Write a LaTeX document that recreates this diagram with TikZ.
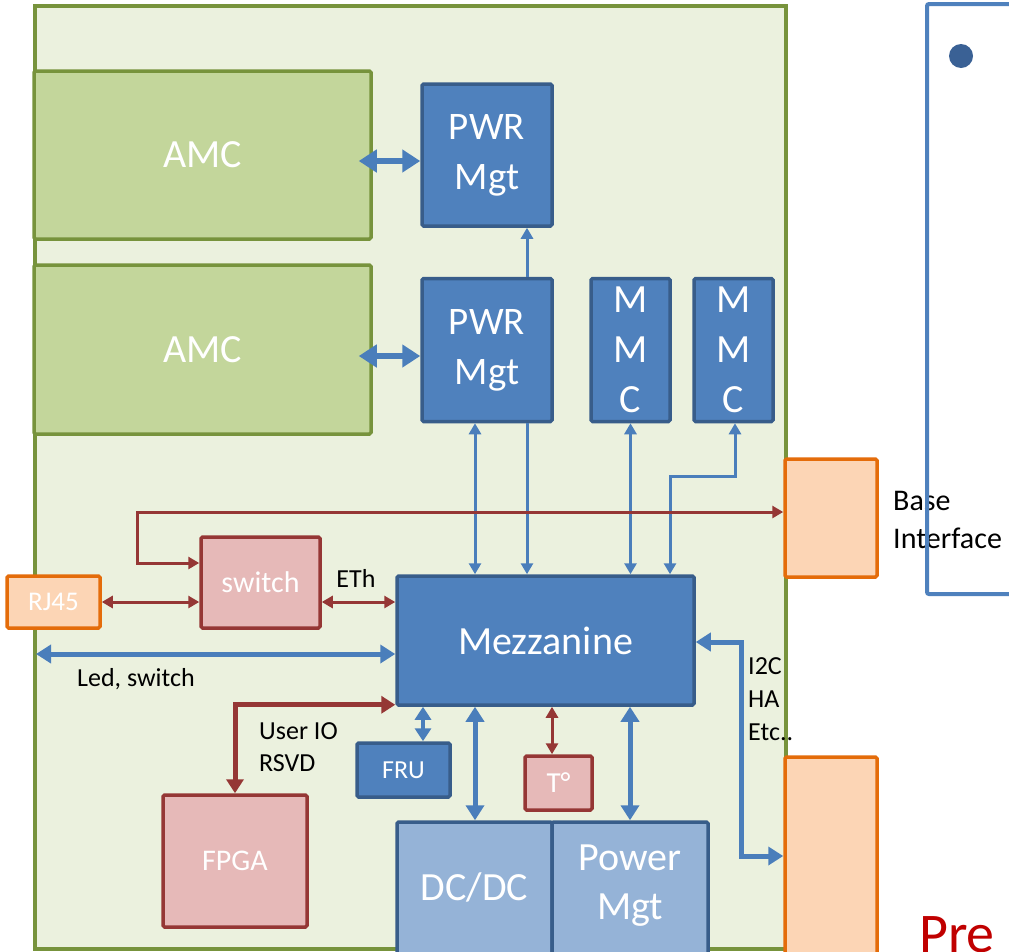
\documentclass[tikz,border=0pt]{standalone}
\usepackage{fontspec}
\setmainfont{Carlito}
\usetikzlibrary{arrows.meta}
\newcommand{\fsz}[2]{\fontsize{#1}{#2}\selectfont}
\definecolor{boardfill}{HTML}{EBF1DE}
\definecolor{boardline}{HTML}{77933C}
\definecolor{amcfill}{HTML}{C3D69B}
\definecolor{bluefill}{HTML}{4F81BD}
\definecolor{blueline}{HTML}{385D8A}
\definecolor{lightblue}{HTML}{95B3D7}
\definecolor{pinkfill}{HTML}{E6B9B8}
\definecolor{redline}{HTML}{953735}
\definecolor{orfill}{HTML}{FCD5B5}
\definecolor{orline}{HTML}{E46C0A}
\definecolor{arblue}{HTML}{4A7EBB}
\definecolor{bulletblue}{HTML}{3A6195}
\definecolor{prered}{HTML}{C00000}
\tikzset{
  tipA/.tip={Triangle[length=18pt,width=22pt]},
  tipB/.tip={Triangle[length=15pt,width=18pt]},
  tipF/.tip={Triangle[length=13pt,width=16pt]},
  tipb/.tip={Triangle[length=11pt,width=12pt]},
  tipr/.tip={Triangle[length=11pt,width=12pt]},
  tipR/.tip={Triangle[length=14pt,width=17pt]},
  box/.style={rectangle, inner sep=0pt, line width=3.5pt, rounded corners=1.5pt, text=white, align=center},
  bluebox/.style={box, fill=bluefill, draw=blueline},
  amcbox/.style={box, fill=amcfill, draw=boardline},
  pinkbox/.style={box, fill=pinkfill, draw=redline},
  orbox/.style={box, fill=orfill, draw=orline},
  lbbox/.style={box, fill=lightblue, draw=blueline},
  boardbox/.style={rectangle, inner sep=0pt, line width=3.5pt, fill=boardfill, draw=boardline},
  lbl/.style={text=black, inner sep=0pt, align=left},
  wtxt/.style={text=white, inner sep=0pt, align=center},
  Aline/.style={draw=arblue, line width=6pt, tipA-tipA},
  Bline/.style={draw=arblue, line width=5pt, tipB-tipB},
  Fline/.style={draw=arblue, line width=4.5pt, tipF-tipF},
  bline/.style={draw=arblue, line width=3pt},
  rline/.style={draw=redline, line width=3pt, tipr-tipr},
  Rline/.style={draw=redline, line width=5pt, tipR-tipR},
}
\begin{document}
\begin{tikzpicture}[x=1pt,y=-1pt]
\useasboundingbox (0,0) rectangle (1009,951);
% board
\node[boardbox, minimum width=751pt, minimum height=943pt] (board) at (410.5,477.5) {};
% boxes
\node[amcbox, minimum width=337pt, minimum height=168pt, font=\fsz{40}{50}] (amc1) at (202.5,155) {AMC};
\node[amcbox, minimum width=337pt, minimum height=169pt, font=\fsz{40}{50}] (amc2) at (202.5,349.5) {AMC};
\node[bluebox, minimum width=130pt, minimum height=142pt, font=\fsz{39}{50}] (pwr1) at (487,155) {PWR\\Mgt};
\node[bluebox, minimum width=130pt, minimum height=143pt, font=\fsz{39}{50}] (pwr2) at (487,350) {PWR\\Mgt};
\node[bluebox, minimum width=79pt, minimum height=143pt, font=\fsz{40}{50}] (mmc1) at (630.5,350) {M\\M\\C};
\node[bluebox, minimum width=79pt, minimum height=143pt, font=\fsz{40}{50}] (mmc2) at (733.5,350) {M\\M\\C};
\node[bluebox, minimum width=297pt, minimum height=129pt, font=\fsz{40}{50}] (mezz) at (545.5,640.5) {Mezzanine};
\node[pinkbox, minimum width=119pt, minimum height=91pt, font=\fsz{30}{36}] (switch) at (260.5,582.5) {switch};
\node[orbox, minimum width=93pt, minimum height=52pt, font=\fsz{27}{32}] (rj45) at (53.5,602) {RJ45};
\node[orbox, minimum width=92pt, minimum height=118pt] (base) at (831,518) {};
\node[orbox, minimum width=92pt, minimum height=246pt] (io) at (831,880) {};
\node[pinkbox, minimum width=144pt, minimum height=132pt, font=\fsz{30}{36}] (fpga) at (235,861) {FPGA};
\node[bluebox, minimum width=93pt, minimum height=54pt, font=\fsz{26}{32}] (fru) at (403.5,770) {FRU};
\node[pinkbox, minimum width=67pt, minimum height=54pt, font=\fsz{29}{34}] (temp) at (558.5,783) {T°};
\node[lbbox, minimum width=155pt, minimum height=178pt] (dcdc) at (474.5,911) {};
\node[lbbox, minimum width=156pt, minimum height=178pt] (pmgt) at (630,911) {};
\node[wtxt, font=\fsz{40}{50}] (dcdctxt) at (474.5,887) {DC/DC};
\node[wtxt, font=\fsz{40}{49}] (pmgttxt) at (630,886) {Power\\Mgt};
% coordinates
\coordinate (mmcbend) at (670,476);
\coordinate (loopc) at (137,512);
\coordinate (ledend) at (36,654);
\coordinate (i2cbend) at (741,856);
% blue connectors
\draw[Aline] ([xshift=-14pt,yshift=-6pt]amc1.east) -- ([yshift=-6pt]pwr1.west);
\draw[Aline] ([xshift=-14pt,yshift=-6.5pt]amc2.east) -- ([yshift=-6pt]pwr2.west);
\draw[bline, -tipb] ([xshift=40pt]pwr2.north) -- ([xshift=40pt]pwr1.south);
\draw[bline, tipb-tipb] ([xshift=-12pt]pwr2.south) -- ([xshift=-70.5pt]mezz.north);
\draw[bline, -tipb] ([xshift=40pt]pwr2.south) -- ([xshift=-18.5pt]mezz.north);
\draw[bline, tipb-tipb] (mmc1.south) -- ([xshift=85pt]mezz.north);
\draw[bline, tipb-tipb] ([xshift=1.5pt]mmc2.south) |- (mmcbend) -- ([xshift=124.5pt]mezz.north);
\draw[Bline] (ledend) -- ([yshift=-13.5pt]mezz.west);
\draw[Fline] ([xshift=19.5pt]fru.north) -- ([xshift=-122.5pt]mezz.south);
\draw[Bline] ([xshift=0.5pt]dcdc.north) -- ([xshift=-70.5pt]mezz.south);
\draw[Bline] (pmgt.north) -- ([xshift=84.5pt]mezz.south);
\draw[Bline] ([yshift=-1.5pt]mezz.east) -| (i2cbend) -- (io.west |- i2cbend);
% red connectors
\draw[rline] ([yshift=19.5pt]switch.west) -| (loopc) -- ([yshift=6pt]base.west);
\draw[rline] (rj45.east) -- ([yshift=-19.5pt]switch.west);
\draw[rline] ([yshift=-19.5pt]switch.east) -- ([yshift=38.5pt]mezz.west);
\draw[Rline] (fpga.north) |- ([yshift=2pt]mezz.south west);
\draw[rline] ([xshift=-6.5pt]temp.north) -- ([xshift=6.5pt]mezz.south);
% labels
\node[lbl, font=\fsz{26}{32}] (eth) at (356,578) {ETh};
\node[lbl, anchor=west, font=\fsz{26}{32}] (led) at (77,679) {Led, switch};
\node[lbl, anchor=west, font=\fsz{26}{32}] (uio) at (259,747) {User IO\\RSVD};
\node[lbl, anchor=west, font=\fsz{26}{33}] (i2c) at (748,699) {I2C\\HA\\Etc..};
\node[lbl, anchor=west, font=\fsz{30}{38}] (basetxt) at (893,520) {Base\\Interface};
\node[text=prered, inner sep=0pt, anchor=base west, font=\fsz{56}{60}] (pre) at (919,952) {Pre};
% right panel
\draw[draw=bluefill, line width=4pt, rounded corners=2pt] (927,4) rectangle (1040,594);
\fill[bulletblue] (961,56) circle (12pt);
\end{tikzpicture}
\end{document}
